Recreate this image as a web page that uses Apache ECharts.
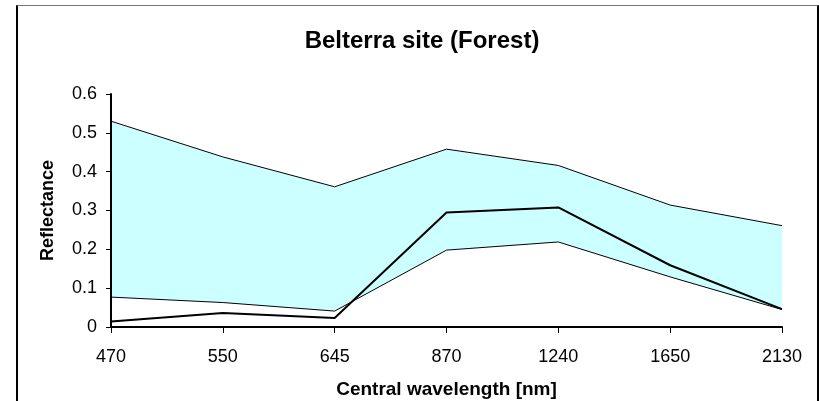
<!DOCTYPE html>
<html>
<head>
    <meta charset="utf-8">
    <title>Belterra site (Forest)</title>
    <script type="text/javascript" src="https://cdn.jsdelivr.net/npm/echarts@6/dist/echarts.min.js"></script>
    <style>
        html, body { margin: 0; padding: 0; background: #fff; }
        #main { position: absolute; left: 0; top: 0; width: 819px; height: 401px; }
        /* Excel-style chart frame, bottom edge is outside the picture */
        #frame {
            position: absolute; left: 16px; top: 5px; width: 799px; height: 420px;
            border-left: 2px solid #000; border-right: 2px solid #000; border-top: 1px solid #777;
            pointer-events: none;
        }
    </style>
</head>
<body>
    <div id="main"></div>
    <div id="frame"></div>
    <script type="text/javascript">

    // wavelengths (nm)
    var wavelengths = ['470', '550', '645', '870', '1240', '1650', '2130'];
    // upper and lower envelope of the reflectance band
    var upperRefl = [0.530, 0.438, 0.361, 0.458, 0.416, 0.314, 0.261];
    var lowerRefl = [0.077, 0.063, 0.041, 0.198, 0.219, 0.129, 0.045];
    // site reflectance
    var siteRefl = [0.014, 0.036, 0.023, 0.295, 0.308, 0.159, 0.046];

    var myChart = echarts.init(document.getElementById('main'));

    var textFont = '"Liberation Sans", Arial, sans-serif';

    var option = {
        backgroundColor: 'transparent',
        animation: false,
        title: {
            text: 'Belterra site (Forest)',
            left: 417,
            textAlign: 'center',
            top: 24,
            textStyle: {
                fontFamily: textFont,
                fontWeight: 'bold',
                fontSize: 24,
                color: '#000'
            }
        },
        grid: {
            left: 111,
            right: 37,
            top: 94,
            bottom: 74,
            outerBoundsMode: 'none'
        },
        xAxis: {
            type: 'category',
            data: wavelengths,
            boundaryGap: false,
            z: 10,
            name: 'Central wavelength [nm]',
            nameLocation: 'middle',
            nameGap: 53,
            nameTextStyle: {
                fontFamily: textFont,
                fontWeight: 'bold',
                fontSize: 19,
                color: '#000'
            },
            axisLine: { lineStyle: { color: '#000', width: 2 } },
            axisTick: {
                alignWithLabel: true,
                length: 6,
                lineStyle: { color: '#000', width: 1 }
            },
            axisLabel: {
                margin: 21,
                fontFamily: textFont,
                fontSize: 18,
                color: '#000'
            },
            splitLine: { show: false }
        },
        yAxis: {
            type: 'value',
            min: 0,
            max: 0.6,
            interval: 0.1,
            z: 10,
            name: 'Reflectance',
            nameLocation: 'middle',
            nameGap: 54,
            nameTextStyle: {
                fontFamily: textFont,
                fontWeight: 'bold',
                fontSize: 18,
                color: '#000'
            },
            axisLine: { show: true, lineStyle: { color: '#000', width: 2 } },
            axisTick: {
                show: true,
                length: 5,
                lineStyle: { color: '#000', width: 1 }
            },
            axisLabel: {
                margin: 14,
                fontFamily: textFont,
                fontSize: 18,
                color: '#000',
                formatter: function (v) { return String(Math.round(v * 10) / 10); }
            },
            splitLine: { show: false }
        },
        series: [
            {
                name: 'upper',
                type: 'line',
                data: upperRefl,
                symbol: 'none',
                lineStyle: { color: '#000', width: 1 },
                areaStyle: { color: '#ccffff', opacity: 1 }
            },
            {
                name: 'lower',
                type: 'line',
                data: lowerRefl,
                symbol: 'none',
                lineStyle: { color: '#000', width: 1 },
                areaStyle: { color: '#ffffff', opacity: 1 }
            },
            {
                name: 'site',
                type: 'line',
                data: siteRefl,
                symbol: 'none',
                lineStyle: { color: '#000', width: 2 }
            }
        ]
    };

    myChart.setOption(option);
    </script>
</body>
</html>
